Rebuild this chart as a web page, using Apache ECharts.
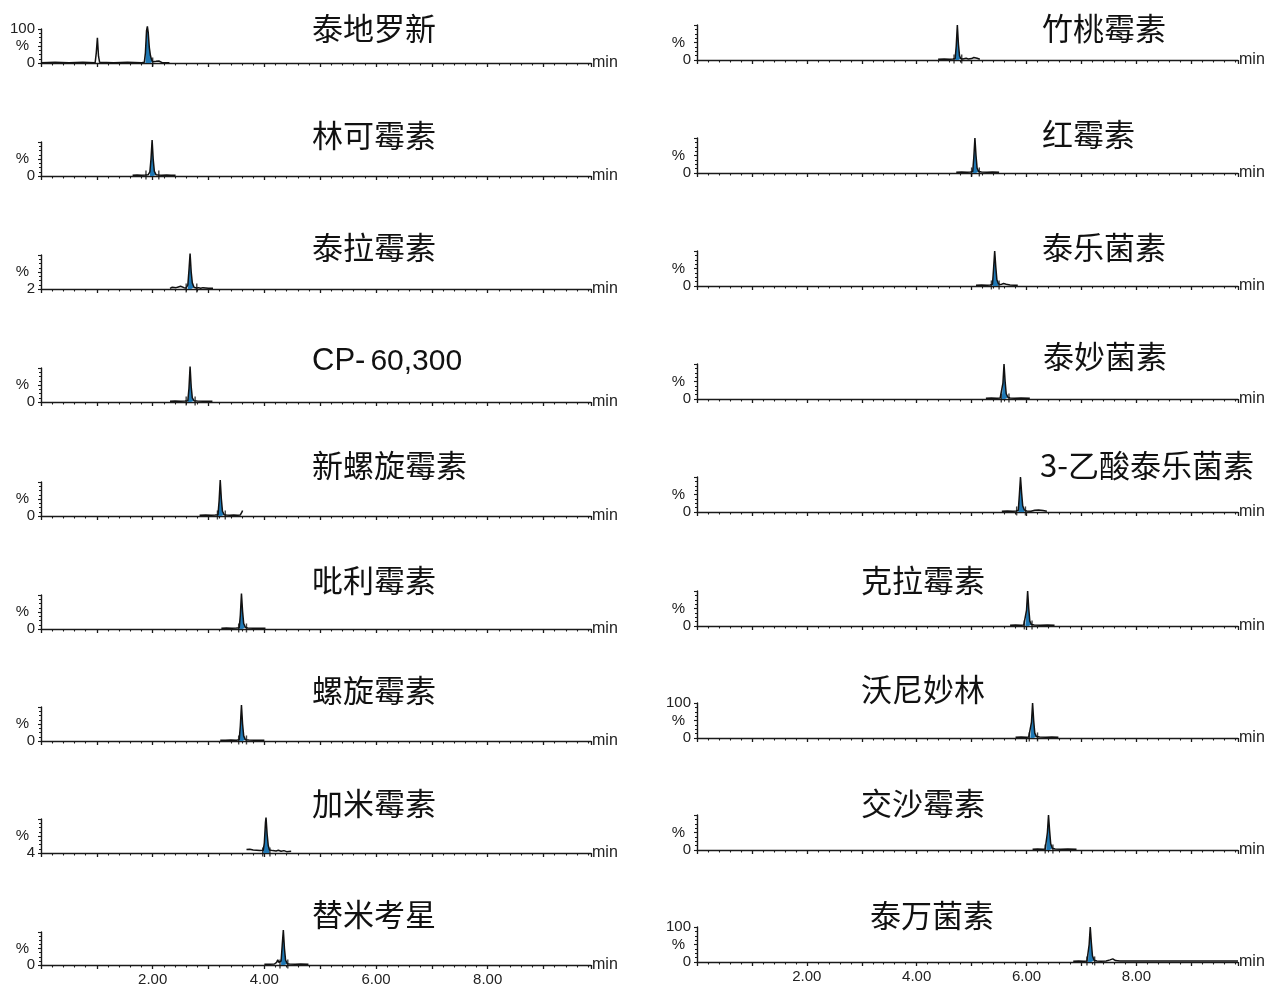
<!DOCTYPE html>
<html>
<head>
<meta charset="utf-8">
<script src="https://cdn.jsdelivr.net/npm/echarts@6/dist/echarts.min.js"></script>
<style>
  html, body { margin: 0; padding: 0; background: #fff; }
  #chart { width: 1267px; height: 987px; }
</style>
</head>
<body>
<div id="chart"></div>
<script>
// Compound names, left column then right column
const leftNames = ['泰地罗新', '林可霉素', '泰拉霉素', 'CP-60,300', '新螺旋霉素', '吡利霉素', '螺旋霉素', '加米霉素', '替米考星'];
const rightNames = ['竹桃霉素', '红霉素', '泰乐菌素', '泰妙菌素', '3-乙酸泰乐菌素', '克拉霉素', '沃尼妙林', '交沙霉素', '泰万菌素'];

// Chromatogram traces: [retention time (min), relative intensity (%)]
const tildipirosin = [[0,1],[0.25,2],[0.5,1],[0.75,2],[0.97,1],[0.99,30],[1.01,74],[1.03,20],[1.05,2],[1.3,1],[1.55,2],[1.8,1],[1.85,2],[1.87,30],[1.89,95],[1.905,108],[1.92,90],[1.94,45],[1.96,22],[1.98,10],[2.0,4],[2.03,2],[2.06,5],[2.08,2],[2.11,6],[2.13,2],[2.17,1],[2.3,1]];
const lincomycin = [[1.64,2],[1.72,3],[1.8,2],[1.87,3],[1.92,4],[1.95,12],[1.97,50],[1.99,106],[2.01,48],[2.03,14],[2.06,4],[2.1,3],[2.16,2],[2.25,3],[2.33,2],[2.41,2]];
const tulathromycin = [[2.31,2],[2.35,5],[2.38,7],[2.42,4],[2.46,6],[2.5,8],[2.53,5],[2.56,4],[2.6,3],[2.63,12],[2.65,55],[2.67,104],[2.69,50],[2.71,18],[2.74,5],[2.78,3],[2.82,4],[2.86,2],[2.9,4],[2.95,3],[3.0,2],[3.08,2]];
const cp60300 = [[2.31,2],[2.4,3],[2.5,2],[2.58,3],[2.63,4],[2.65,40],[2.67,104],[2.69,45],[2.71,12],[2.74,4],[2.8,3],[2.9,2],[3.0,2],[3.07,2]];
const neospiramycin = [[2.84,2],[2.95,3],[3.05,2],[3.12,3],[3.17,4],[3.19,45],[3.21,106],[3.23,50],[3.25,14],[3.28,4],[3.32,3],[3.38,2],[3.45,3],[3.52,2],[3.57,3],[3.6,12],[3.61,16]];
const pirlimycin = [[3.23,2],[3.32,3],[3.42,2],[3.5,3],[3.55,4],[3.57,40],[3.59,104],[3.61,52],[3.63,16],[3.66,5],[3.7,3],[3.8,2],[3.9,2],[4.02,2]];
const spiramycin = [[3.21,2],[3.3,2],[3.4,3],[3.5,2],[3.55,4],[3.57,45],[3.59,106],[3.61,50],[3.63,15],[3.66,4],[3.72,3],[3.82,2],[3.92,2],[4.0,2]];
const gamithromycin = [[3.68,10],[3.71,14],[3.74,11],[3.77,13],[3.8,9],[3.83,12],[3.86,8],[3.89,11],[3.92,7],[3.95,9],[3.98,8],[4.0,30],[4.02,90],[4.03,104],[4.05,55],[4.07,22],[4.09,9],[4.12,12],[4.15,7],[4.18,10],[4.21,6],[4.25,8],[4.3,5],[4.35,7],[4.4,4],[4.48,5]];
const tilmicosin = [[4.0,2],[4.1,2],[4.18,3],[4.22,8],[4.24,16],[4.26,8],[4.28,4],[4.3,12],[4.32,60],[4.34,106],[4.36,50],[4.38,15],[4.41,4],[4.45,3],[4.55,2],[4.65,3],[4.79,2]];

const oleandomycin = [[4.39,2],[4.5,3],[4.6,2],[4.66,3],[4.7,4],[4.72,40],[4.74,100],[4.76,45],[4.78,12],[4.8,4],[4.84,3],[4.9,5],[4.94,3],[5.0,4],[5.04,7],[5.07,10],[5.1,5],[5.15,2]];
const erythromycin = [[4.72,2],[4.82,3],[4.92,2],[4.98,3],[5.02,4],[5.04,45],[5.06,100],[5.08,50],[5.1,14],[5.13,4],[5.18,3],[5.28,2],[5.38,3],[5.5,2]];
const tylosin = [[5.08,2],[5.18,3],[5.28,2],[5.34,3],[5.38,5],[5.4,50],[5.42,100],[5.44,55],[5.46,18],[5.49,6],[5.53,4],[5.58,7],[5.63,5],[5.7,3],[5.78,2],[5.84,2]];
const tiamulin = [[5.26,2],[5.36,3],[5.46,2],[5.52,3],[5.55,4],[5.57,45],[5.59,100],[5.61,50],[5.63,15],[5.66,5],[5.7,3],[5.78,2],[5.9,3],[6.06,2]];
const acetyltylosin = [[5.55,2],[5.65,3],[5.75,2],[5.81,3],[5.85,5],[5.87,50],[5.89,100],[5.91,55],[5.93,18],[5.96,6],[6.0,3],[6.08,2],[6.15,5],[6.22,6],[6.3,4],[6.37,2]];
const clarithromycin = [[5.7,2],[5.8,3],[5.9,2],[5.95,3],[5.98,4],[6.0,45],[6.02,100],[6.04,50],[6.06,14],[6.09,4],[6.14,3],[6.25,2],[6.38,3],[6.51,2]];
const valnemulin = [[5.8,2],[5.9,3],[6.0,2],[6.04,3],[6.07,4],[6.09,45],[6.11,100],[6.13,50],[6.15,14],[6.18,4],[6.24,3],[6.35,2],[6.46,3],[6.58,2]];
const josamycin = [[6.11,2],[6.2,3],[6.3,2],[6.34,3],[6.36,5],[6.38,50],[6.4,100],[6.42,55],[6.44,18],[6.47,5],[6.52,3],[6.62,2],[6.75,3],[6.91,2]];
const tylvalosin = [[6.85,2],[6.95,3],[7.05,2],[7.1,3],[7.12,5],[7.14,50],[7.16,100],[7.18,55],[7.2,18],[7.23,5],[7.28,3],[7.35,2],[7.45,3],[7.52,6],[7.57,9],[7.62,4],[7.7,3],[8.0,3],[8.5,3],[9.0,3],[9.5,3],[9.85,3]];

const leftTraces = [tildipirosin, lincomycin, tulathromycin, cp60300, neospiramycin, pirlimycin, spiramycin, gamithromycin, tilmicosin];
const rightTraces = [oleandomycin, erythromycin, tylosin, tiamulin, acetyltylosin, clarithromycin, valnemulin, josamycin, tylvalosin];

// Integrated peak windows [start, end] (min)
const leftWindows = [[1.87,2.0],[1.95,2.06],[2.63,2.74],[2.63,2.74],[3.17,3.28],[3.55,3.66],[3.55,3.66],[3.98,4.09],[4.3,4.41]];
const rightWindows = [[4.7,4.8],[5.02,5.13],[5.38,5.49],[5.55,5.66],[5.85,5.96],[5.98,6.09],[6.07,6.18],[6.36,6.47],[7.12,7.23]];

// Integration boundary marks (min)
const leftMarks = [[2.0],[1.88,2.11],[2.6,2.79],[2.6,2.76],[3.16,3.3],[3.54,3.68],[3.54,3.68],[3.97,4.1],[4.28,4.42]];
const rightMarks = [[4.68,4.82],[5.0,5.14],[5.36,5.5],[5.54,5.68],[5.82,5.98],[5.96,6.1],[6.05,6.2],[6.34,6.48],[7.1,7.24]];

// Intensity axis labels: bottom and top
const leftLow = ['0','0','2','0','0','0','0','4','0'];
const leftHigh = ['100','','','','','','','',''];
const rightLow = ['0','0','0','0','0','0','0','0','0'];
const rightHigh = ['','','','','','','100','','100'];

// Time axis tick labels
const timeLabels = [2, 4, 6, 8];
const X_MAX = 9.85;

// Layout
const leftBase = [63, 176, 289, 402, 516, 629, 741, 853, 966];
const rightBase = [60, 173, 286, 399, 512, 626, 738, 850, 962];
const leftTitleX = [312, 312, 312, 312, 312, 312, 312, 312, 312];
const leftTitleY = [13, 120, 232, 345, 450, 565, 675, 788, 899];
const rightTitleX = [1042, 1042, 1042, 1043, 1040, 861, 861, 861, 870];
const rightTitleY = [13, 119, 232, 341, 450, 565, 674, 788, 900];

const AXIS = '#1a1a1a';
const FILL = '#1f78b4';
const CJK = '"Noto Sans CJK SC", "Noto Sans", sans-serif';
const LATIN = '"Liberation Sans", Arial, sans-serif';

const option = {
  backgroundColor: '#fff',
  animation: false,
  title: [], grid: [], xAxis: [], yAxis: [], series: []
};

function addPanel(idx, name, trace, win, marks, low, high, base, h, left, w, tx, ty, showTime) {
  const isCP = name.indexOf('CP-') === 0;
  option.title.push({
    text: isCP ? '{a|CP-} {b|60,300}' : name,
    left: tx, top: isCP ? ty + 1 : ty, padding: 0,
    textStyle: isCP ? {
      fontWeight: 'normal',
      rich: {
        a: { fontSize: 31, fontWeight: 'normal', fontFamily: LATIN, color: '#111' },
        b: { fontSize: 30, fontWeight: 'normal', fontFamily: LATIN, color: '#111' }
      }
    } : { fontSize: 31, fontWeight: 'normal', color: '#111', fontFamily: CJK }
  });
  option.grid.push({ left: left, top: base - h, width: w, height: h });
  option.xAxis.push({
    gridIndex: idx, type: 'value', min: 0, max: X_MAX, interval: 1,
    name: 'min', nameLocation: 'end', nameGap: 1,
    nameTextStyle: { fontSize: 16, color: '#222', fontFamily: LATIN },
    axisLine: { lineStyle: { color: AXIS, width: 1.4 } },
    axisTick: { show: true, length: 4, lineStyle: { color: AXIS, width: 1.3 } },
    minorTick: { show: true, splitNumber: 5, length: 2.5, lineStyle: { color: AXIS, width: 1.1 } },
    splitLine: { show: false },
    axisLabel: {
      show: showTime, margin: 7, fontSize: 15, color: '#222', fontFamily: LATIN,
      formatter: v => timeLabels.indexOf(v) >= 0 ? v.toFixed(2) : ''
    }
  });
  option.yAxis.push({
    gridIndex: idx, type: 'value', min: 0, max: 100, interval: 50,
    axisLine: { show: true, lineStyle: { color: AXIS, width: 1.4 } },
    axisTick: { show: true, length: 3, lineStyle: { color: AXIS, width: 1.1 } },
    minorTick: { show: true, splitNumber: 4, length: 2, lineStyle: { color: AXIS, width: 1 } },
    splitLine: { show: false },
    axisLabel: {
      margin: 6, fontSize: 15, color: '#222', fontFamily: LATIN,
      formatter: v => v === 0 ? low : (v === 50 ? '{p|%}' : (v === 100 ? high : '')),
      rich: { p: { fontSize: 15, color: '#222', fontFamily: LATIN, padding: [0, 6, 0, 0] } }
    }
  });
  const peak = trace.filter(p => p[0] >= win[0] - 1e-9 && p[0] <= win[1] + 1e-9);
  option.series.push({
    type: 'line', xAxisIndex: idx, yAxisIndex: idx, data: peak,
    showSymbol: false, clip: false, z: 2, silent: true,
    lineStyle: { width: 0 }, areaStyle: { color: FILL, opacity: 1 }
  });
  option.series.push({
    type: 'line', xAxisIndex: idx, yAxisIndex: idx, data: trace,
    showSymbol: false, clip: false, z: 3, silent: true,
    lineStyle: { color: '#111', width: 1.5 }
  });
  option.series.push({
    type: 'scatter', xAxisIndex: idx, yAxisIndex: idx,
    data: marks.map(t => [t, 3]), symbol: 'rect', symbolSize: [1.4, 9],
    itemStyle: { color: '#111' }, z: 4, silent: true
  });
}

leftNames.forEach((n, i) => addPanel(i, n, leftTraces[i], leftWindows[i], leftMarks[i],
  leftLow[i], leftHigh[i], leftBase[i], 34, 41, 550, leftTitleX[i], leftTitleY[i], i === 8));
rightNames.forEach((n, i) => addPanel(9 + i, n, rightTraces[i], rightWindows[i], rightMarks[i],
  rightLow[i], rightHigh[i], rightBase[i], 35, 697, 541, rightTitleX[i], rightTitleY[i], i === 8));

const chart = echarts.init(document.getElementById('chart'));
chart.setOption(option);
</script>
</body>
</html>
